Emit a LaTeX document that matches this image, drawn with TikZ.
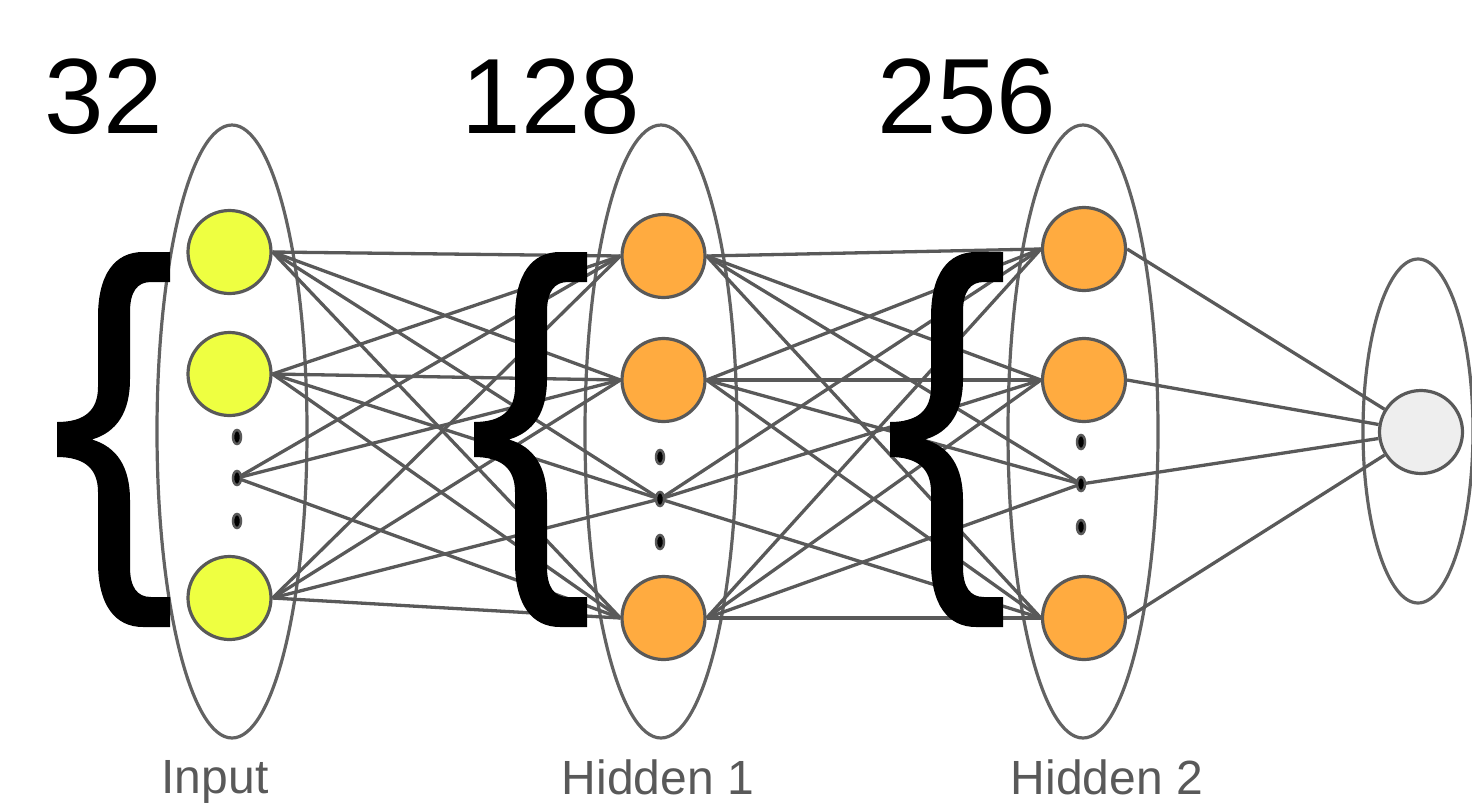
\documentclass[tikz,border=0pt]{standalone}
\usepackage{fontspec}
\setmainfont{Liberation Sans}
\usetikzlibrary{shapes.geometric}
\definecolor{edgegray}{HTML}{595959}
\definecolor{ringgray}{HTML}{626262}
\definecolor{inyellow}{HTML}{EEFF41}
\definecolor{hidorange}{HTML}{FFAB40}
\definecolor{outgray}{HTML}{EEEEEE}
\pgfdeclarelayer{bg}
\pgfsetlayers{bg,main}
\tikzset{
  neuron/.style={circle, draw=edgegray, line width=3.2pt, minimum size=83pt, inner sep=0pt},
  inneuron/.style={neuron, fill=inyellow},
  hidneuron/.style={neuron, fill=hidorange},
  outneuron/.style={neuron, fill=outgray},
  vdot/.style={ellipse, draw=edgegray, fill=black, line width=2.5pt, minimum width=8pt, minimum height=14pt, inner sep=0pt},
  conn/.style={draw=edgegray, line width=3.3pt},
  ring/.style={draw=ringgray, line width=3.2pt},
  numlabel/.style={anchor=base, font=\fontsize{107}{107}\selectfont, text=black, inner sep=0pt},
  laylabel/.style={anchor=base, font=\fontsize{48}{48}\selectfont, text=edgegray, inner sep=0pt, text depth=0pt},
  pics/curlybrace/.style={code={
    \fill[black] (113,0) -- (86,0) .. controls (58,0) and (41,22) .. (41,65) -- (41,135)
      .. controls (41,158) and (28,170) .. (0,170) -- (0,205)
      .. controls (28,205) and (41,217) .. (41,240) -- (41,310)
      .. controls (41,353) and (58,375) .. (86,375) -- (113,375) -- (113,345) -- (94,345)
      .. controls (80,345) and (73,335) .. (73,315) -- (73,248)
      .. controls (73,215) and (60,195) .. (35,187.5)
      .. controls (60,180) and (73,160) .. (73,127) -- (73,60)
      .. controls (73,40) and (80,30) .. (94,30) -- (113,30) -- cycle;
  }}
}
\begin{document}
\begin{tikzpicture}[x=1pt,y=-1pt]
\useasboundingbox (0,0) rectangle (1472,804);

% neurons
\node[inneuron] (i1) at (229.5,252) {};
\node[inneuron] (i2) at (229.5,374) {};
\node[inneuron] (i3) at (229.5,598) {};
\node[vdot] (iu) at (237,437) {};
\node[vdot] (im) at (237,478) {};
\node[vdot] (il) at (237,521) {};

\node[hidneuron] (a1) at (663.5,256) {};
\node[hidneuron] (a2) at (663.5,380) {};
\node[hidneuron] (a3) at (663.5,618) {};
\node[vdot] (au) at (660,457) {};
\node[vdot] (am) at (660,499) {};
\node[vdot] (al) at (660,542) {};

\node[hidneuron] (b1) at (1084,249) {};
\node[hidneuron] (b2) at (1084,380) {};
\node[hidneuron] (b3) at (1084,618) {};
\node[vdot] (bu) at (1081,442) {};
\node[vdot] (bm) at (1081,484) {};
\node[vdot] (bl) at (1081,527) {};

\node[outneuron] (o) at (1421,432) {};

\begin{pgfonlayer}{bg}
  % layer rings
  \draw[ring] (232,431.5) ellipse [x radius=75, y radius=306.5];
  \draw[ring] (661,431.5) ellipse [x radius=76, y radius=306.5];
  \draw[ring] (1083,431.5) ellipse [x radius=75, y radius=306.5];
  \draw[ring] (1418,431) ellipse [x radius=55, y radius=172];
  % input -> hidden 1
  \foreach \s in {i1,i2,i3} {
    \foreach \t in {a1,a2,a3} { \draw[conn] (\s.east) -- (\t.west); }
    \draw[conn] (\s.east) -- (am.center);
  }
  \foreach \t in {a1,a2,a3} { \draw[conn] (im.center) -- (\t.west); }
  % hidden 1 -> hidden 2
  \foreach \s in {a1,a2,a3} {
    \foreach \t in {b1,b2,b3} { \draw[conn] (\s.east) -- (\t.west); }
    \draw[conn] (\s.east) -- (bm.center);
  }
  \foreach \t in {b1,b2,b3} { \draw[conn] (am.center) -- (\t.west); }
  % hidden 2 -> output
  \foreach \s in {b1,b2,b3} { \draw[conn] (\s.east) -- (o); }
  \draw[conn] (bm.center) -- (o);
\end{pgfonlayer}

% braces
\pic at (57,252) {curlybrace};
\pic at (474,252) {curlybrace};
\pic at (890,252) {curlybrace};

% sizes
\node[numlabel] (n32) at (104,133) {32};
\node[numlabel] (n128) at (551,133) {128};
\node[numlabel] (n256) at (967,133) {256};

% layer names
\node[laylabel] (linput) at (215,793) {Input};
\node[laylabel] (lh1) at (658,794) {Hidden 1};
\node[laylabel] (lh2) at (1107,794) {Hidden 2};
\end{tikzpicture}
\end{document}
